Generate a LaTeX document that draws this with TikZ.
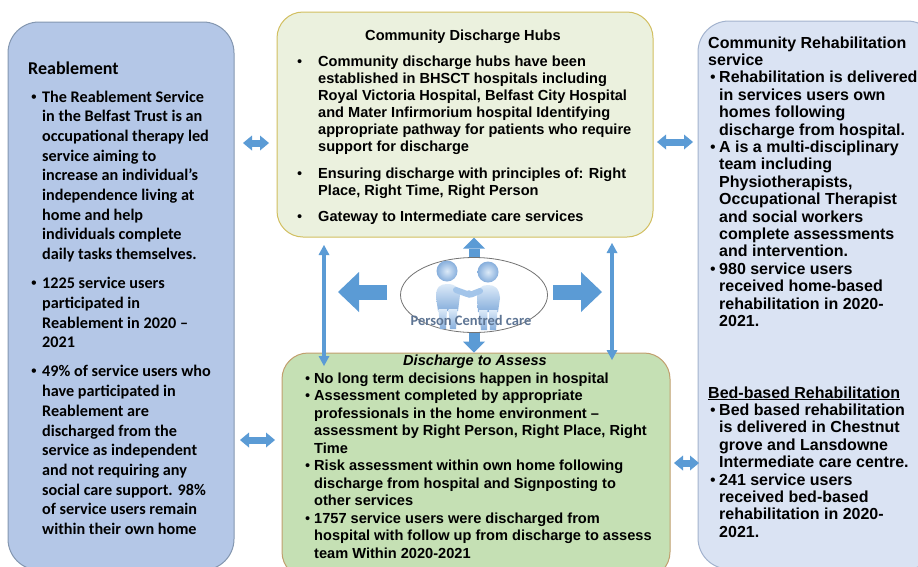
\documentclass[tikz,border=0pt]{standalone}
\usepackage{fontspec}
\setmainfont{Liberation Sans}
\newfontfamily\calfont{Carlito}
\newfontfamily\bulfont{Liberation Sans}
\usetikzlibrary{shapes.geometric,arrows.meta}

\definecolor{reabfill}{HTML}{B4C7E7}
\definecolor{reabline}{HTML}{8497B0}
\definecolor{rehabfill}{HTML}{DAE3F3}
\definecolor{rehabline}{HTML}{A3B3CE}
\definecolor{hubfill}{HTML}{EBF1DE}
\definecolor{hubline}{HTML}{D2BF60}
\definecolor{dtafill}{HTML}{C5E0B4}
\definecolor{dtaline}{HTML}{C19F6E}
\definecolor{arrowblue}{HTML}{5B9BD5}
\definecolor{pcctext}{HTML}{5E7594}
\definecolor{figlight}{HTML}{DCEAF8}
\definecolor{figdark}{HTML}{86AEDC}
\definecolor{figmid}{HTML}{A3C5EA}

% one bulleted paragraph with a hanging indent
\newcommand\bpara[2]{\par\noindent\hangindent=#1\hangafter=1%
  \makebox[#1][l]{\bulfont\mdseries\textbullet}#2\par}
% a top-aligned block of text with a fixed line pitch
\newcommand\textblock[4]{%
  \begin{minipage}[t]{#1}\raggedright\let\\\newline\fontsize{#2}{#3}\selectfont
  \lineskiplimit=-100pt\lineskip=0pt #4\end{minipage}}

\begin{document}
\begin{tikzpicture}[x=1pt,y=-1pt,
  box/.style={rectangle, inner sep=0pt, line width=1pt},
  sidebox/.style={box, rounded corners=31pt},
  midbox/.style={box, rounded corners=26pt},
  txt/.style={inner sep=0pt, anchor=base west},
  bigarrow/.style={draw=arrowblue, line width=15pt,
    -{Triangle[length=21pt,width=40pt,line width=0pt]}},
  midarrow/.style={draw=arrowblue, line width=11pt,
    -{Triangle[length=11pt,width=22pt,line width=0pt]}},
  thinarrow/.style={draw=arrowblue, line width=4pt,
    {Triangle[length=10pt,width=11pt,line width=0pt]}-{Triangle[length=10pt,width=11pt,line width=0pt]}},
  smallarrow/.style={draw=arrowblue, line width=7pt,
    {Triangle[length=9pt,width=15pt,line width=0pt]}-{Triangle[length=9pt,width=15pt,line width=0pt]}},
  figshade/.style={top color=figlight, bottom color=figdark, draw=none},
  headshade/.style={inner color=figlight, outer color=figdark, draw=none},
]
\useasboundingbox (0,0) rectangle (918,566);
\fill[white] (0,0) rectangle (918,566);
\begin{scope}
\clip (0,0) rectangle (918,566);

% the four panels
\node[sidebox, fill=reabfill, draw=reabline, minimum width=226pt, minimum height=548pt] (reab) at (121,296) {};
\node[sidebox, fill=rehabfill, draw=rehabline, minimum width=240pt, minimum height=548pt] (rehab) at (818,295) {};
\node[midbox, fill=hubfill, draw=hubline, minimum width=376pt, minimum height=225pt] (hubs) at (465,124.5) {};
\node[midbox, fill=dtafill, draw=dtaline, minimum width=388pt, minimum height=225pt] (dta) at (476,465.5) {};

% person centred care hub
\node[ellipse, draw=black!55, line width=0.8pt, fill=white, minimum width=147pt, minimum height=75pt, inner sep=0pt] (pcc) at (474,295) {};

% two figures shaking hands
% left figure
\shade[headshade] (447,271) circle[radius=10.5];
\shade[figshade] (436,297) .. controls (436,287) and (440,284) .. (447,284)
  .. controls (455,284) and (459,287) .. (460,295) -- (458,311) -- (438,311) -- cycle;
\shade[figshade] (438.5,309) -- (447,309) -- (446,329) -- (440,329) -- cycle;
\shade[figshade] (448.5,309) -- (457.5,309) -- (456,329) -- (450,329) -- cycle;
\draw[figmid, line width=6pt, line cap=round] (456,290) -- (467,294);
% right figure
\shade[headshade] (488,272) circle[radius=10.5];
\shade[figshade] (477,297) .. controls (478,288) and (481,285) .. (488,285)
  .. controls (495,285) and (499,288) .. (500,298) -- (498,312) -- (478,312) -- cycle;
\shade[figshade] (479,310) -- (487.5,310) -- (487,330) -- (481,330) -- cycle;
\shade[figshade] (489,310) -- (497.5,310) -- (496,330) -- (490,330) -- cycle;
\draw[figmid, line width=6pt, line cap=round] (480,291) -- (471,294.5);
\fill[figmid] (469,294) circle[radius=3.8];
\node[inner sep=0pt, text=pcctext] (pcclabel) at (471,320) {\calfont\bfseries\fontsize{14.5}{16}\selectfont Person Centred care};

% arrows out of the centre
\coordinate (lbs) at (387,292);
\coordinate (lbe) at (338,292);
\coordinate (rbs) at (553,292);
\coordinate (rbe) at (602,292);
\draw[bigarrow] (lbs) -- (lbe);
\draw[bigarrow] (rbs) -- (rbe);
\draw[midarrow] (pcc.north) -- (pcc.north |- hubs.south);
\draw[midarrow] (pcc.south) -- (pcc.south |- dta.north);

% links between the hubs and discharge to assess
\coordinate (vlt) at (324,245);
\coordinate (vlb) at (324,366);
\coordinate (vrt) at (612,243);
\coordinate (vrb) at (612,360);
\draw[thinarrow] (vlt) -- (vlb);
\draw[thinarrow] (vrt) -- (vrb);

% links to the side panels
\coordinate (a1) at (243,143); \coordinate (a2) at (269,143);
\coordinate (b1) at (240,440); \coordinate (b2) at (275,440);
\coordinate (c1) at (657,142); \coordinate (c2) at (693,142);
\coordinate (d1) at (674,463); \coordinate (d2) at (699,463);
\draw[smallarrow] (a1) -- (a2);
\draw[smallarrow] (b1) -- (b2);
\draw[smallarrow] (c1) -- (c2);
\draw[smallarrow] (d1) -- (d2);

% Reablement
\node[txt] (reabtitle) at (28,74) {\calfont\bfseries\fontsize{18}{20}\selectfont Reablement};
\node[txt] (reabtext) at (31,102) {\calfont\bfseries\textblock{250pt}{16.2}{19.7}{%
\bpara{11pt}{The Reablement Service\\in the Belfast Trust is an\\occupational therapy led\\service aiming to\\increase an individual’s\\independence living at\\home and help\\individuals complete\\daily tasks themselves.}
\vspace{9.4pt}
\bpara{11pt}{1225 service users\\participated in\\Reablement in 2020 –\\2021}
\vspace{9.4pt}
\bpara{11pt}{49\% of service users who\\have participated in\\Reablement are\\discharged from the\\service as independent\\and not requiring any\\social care support. 98\%\\of service users remain\\within their own home}}};

% Community Discharge Hubs
\node[inner sep=0pt, anchor=base] (hubtitle) at (463,40) {\bfseries\fontsize{14.6}{17}\selectfont Community Discharge Hubs};
\node[txt] (hubtext) at (297,66) {\bfseries\textblock{380pt}{14.6}{17.1}{%
\bpara{21pt}{Community discharge hubs have been\\established in BHSCT hospitals including\\Royal Victoria Hospital, Belfast City Hospital\\and Mater Infirmorium hospital Identifying\\appropriate pathway for patients who require\\support for discharge}
\vspace{9.5pt}
\bpara{21pt}{Ensuring discharge with principles of: Right\\Place, Right Time, Right Person}
\vspace{9.5pt}
\bpara{21pt}{Gateway to Intermediate care services}}};

% Discharge to Assess
\node[inner sep=0pt, anchor=base] (dtatitle) at (475,365) {\bfseries\itshape\fontsize{14.6}{17}\selectfont Discharge to Assess};
\node[txt] (dtatext) at (305,383) {\bfseries\textblock{400pt}{14.6}{17.5}{%
\bpara{9pt}{No long term decisions happen in hospital}
\bpara{9pt}{Assessment completed by appropriate\\professionals in the home environment –\\assessment by Right Person, Right Place, Right\\Time}
\bpara{9pt}{Risk assessment within own home following\\discharge from hospital and Signposting to\\other services}
\bpara{9pt}{1757 service users were discharged from\\hospital with follow up from discharge to assess\\team Within 2020-2021}}};

% Community Rehabilitation service
\node[txt] (rehabtitle) at (708,48) {\bfseries\textblock{300pt}{16}{17.4}{%
\noindent Community Rehabilitation\\service}};
\node[txt] (rehabtext) at (710,82.8) {\bfseries\textblock{300pt}{16}{17.4}{%
\bpara{9pt}{Rehabilitation is delivered\\in services users own\\homes following\\discharge from hospital.}
\bpara{9pt}{A is a multi-disciplinary\\team including\\Physiotherapists,\\Occupational Therapist\\and social workers\\complete assessments\\and intervention.}
\bpara{9pt}{980 service users\\received home-based\\rehabilitation in 2020-\\2021.}}};

% Bed-based Rehabilitation
\node[txt] (bedtitle) at (708,398) {\bfseries\fontsize{16}{17.4}\selectfont\underline{Bed-based Rehabilitation}};
\node[txt] (bedtext) at (710,415.4) {\bfseries\textblock{300pt}{16}{17.4}{%
\bpara{9pt}{Bed based rehabilitation\\is delivered in Chestnut\\grove and Lansdowne\\Intermediate care centre.}
\bpara{9pt}{241 service users\\received bed-based\\rehabilitation in 2020-\\2021.}}};
\end{scope}
\end{tikzpicture}
\end{document}
